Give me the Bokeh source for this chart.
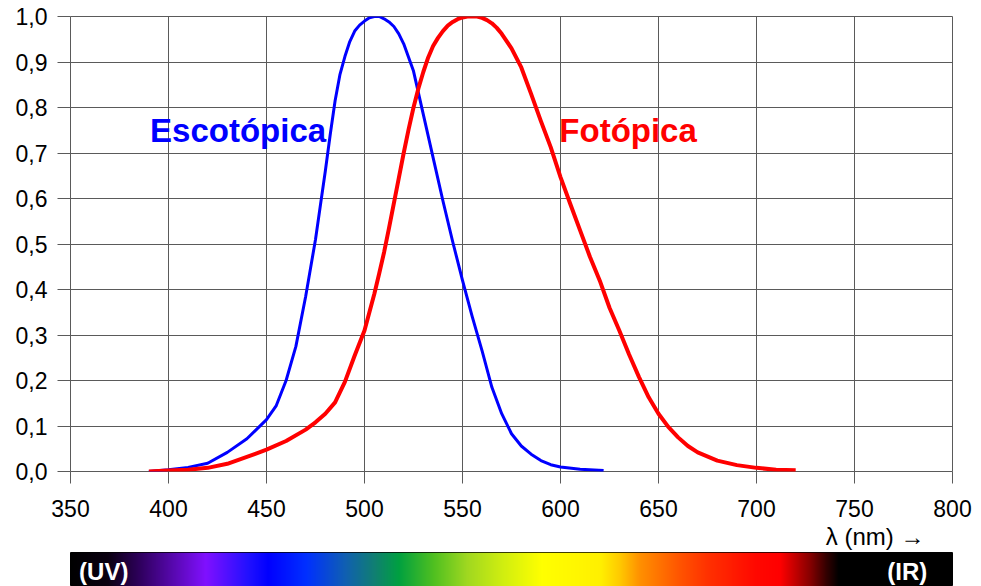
import numpy as np
from bokeh.plotting import figure
from bokeh.layouts import column
from bokeh.models import Range1d, FixedTicker, CustomJSTickFormatter, Title
from bokeh.core.properties import value
from bokeh.embed import file_html
from bokeh.resources import INLINE

# ---------------- data ----------------
x_ticks = [350, 400, 450, 500, 550, 600, 650, 700, 750, 800]
y_ticks = [0.0, 0.1, 0.2, 0.3, 0.4, 0.5, 0.6, 0.7, 0.8, 0.9, 1.0]

scot_wl = [390, 400, 410, 420, 430, 440, 450, 455, 460, 465, 470, 475, 477.5, 480,
           482.5, 485, 487.5, 490, 492.5, 495, 497.5, 500, 502.5, 505, 507.5, 510,
           512.5, 515, 517.5, 520, 525, 530, 535, 540, 545, 550, 555, 560, 565,
           570, 575, 580, 585, 590, 595, 600, 610, 622]
scot_v = [0.0, 0.004, 0.009, 0.018, 0.042, 0.072, 0.114, 0.145, 0.20, 0.275, 0.385,
          0.51, 0.585, 0.66, 0.74, 0.815, 0.873, 0.912, 0.945, 0.968, 0.981, 0.99,
          0.997, 1.0, 1.0, 0.995, 0.988, 0.978, 0.962, 0.94, 0.88, 0.785, 0.69,
          0.595, 0.505, 0.42, 0.34, 0.265, 0.185, 0.127, 0.083, 0.056, 0.038,
          0.024, 0.015, 0.01, 0.005, 0.002]

phot_wl = [390, 400, 410, 420, 430, 440, 450, 460, 470, 475, 480, 485, 490, 495,
           500, 502.5, 505, 507.5, 510, 512.5, 515, 517.5, 520, 522.5, 525, 527.5,
           530, 532.5, 535, 537.5, 540, 542.5, 545, 547.5, 550, 552.5, 555, 557.5,
           560, 562.5, 565, 567.5, 570, 575, 580, 585, 590, 595, 600, 605, 610, 615,
           620, 625, 630, 635, 640, 645, 650, 655, 660, 665, 670, 680, 690, 700,
           710, 720]
phot_v = [0.0, 0.002, 0.004, 0.008, 0.017, 0.032, 0.048, 0.067, 0.092, 0.108, 0.127,
          0.152, 0.197, 0.255, 0.31, 0.35, 0.39, 0.435, 0.482, 0.535, 0.59, 0.645,
          0.70, 0.752, 0.80, 0.842, 0.878, 0.91, 0.935, 0.953, 0.968, 0.98, 0.988,
          0.994, 0.998, 1.0, 1.0, 1.0, 0.997, 0.992, 0.985, 0.975, 0.962, 0.93,
          0.888, 0.83, 0.77, 0.713, 0.647, 0.588, 0.53, 0.472, 0.42, 0.36, 0.31,
          0.257, 0.208, 0.163, 0.127, 0.098, 0.075, 0.056, 0.042, 0.024, 0.014,
          0.008, 0.004, 0.003]

curve_names = ["Escotópica", "Fotópica"]
axis_title = "λ (nm) →"
band_names = ["(UV)", "(IR)"]

# spectrum colour stops (wavelength, colour)
spec_wl = [349, 368, 385, 418, 440, 450, 470, 490, 505, 517, 535, 552, 570, 590,
           620, 630, 640, 660, 675, 700, 712, 720, 728, 736, 742, 800]
spec_col = ["#000000", "#0a0010", "#300060", "#8010ff", "#2010ff", "#0000ff",
            "#0030ff", "#1060b0", "#108070", "#00a040", "#50c020", "#a0d820",
            "#d0ee10", "#ffff00", "#fff000", "#ffc800", "#ff9000", "#ff5500",
            "#ff3000", "#ff0800", "#ff0000", "#c00000", "#800000", "#300000",
            "#000000", "#000000"]

# ---------------- styles ----------------
FONT = "Liberation Sans"
GRID = "#5a5a5a"

p = figure(width=981, height=552, x_range=Range1d(350, 800), y_range=Range1d(0, 1),
           output_backend="svg", toolbar_location=None,
           min_border_left=70, min_border_right=29, min_border_top=16,
           min_border_bottom=81)
p.background_fill_color = "white"
p.border_fill_color = "white"
p.outline_line_color = GRID
p.outline_line_width = 1

p.xaxis.ticker = FixedTicker(ticks=x_ticks)
p.yaxis.ticker = FixedTicker(ticks=y_ticks)
p.xgrid.ticker = FixedTicker(ticks=x_ticks)
p.ygrid.ticker = FixedTicker(ticks=y_ticks)
for g in (p.xgrid, p.ygrid):
    g.grid_line_color = GRID
    g.grid_line_width = 1
    g.grid_line_alpha = 1

p.yaxis.formatter = CustomJSTickFormatter(code="return tick.toFixed(1).replace('.', ',');")

for ax, tout, standoff in ((p.xaxis, 12, 16), (p.yaxis, 13, 10)):
    ax.axis_line_color = None
    ax.major_tick_in = 0
    ax.major_tick_out = tout
    ax.major_tick_line_color = GRID
    ax.major_tick_line_width = 1
    ax.minor_tick_line_color = None
    ax.major_label_text_font = FONT
    ax.major_label_text_font_size = "23px"
    ax.major_label_text_color = "black"
    ax.major_label_standoff = standoff

p.line(scot_wl, scot_v, line_color="#0000ff", line_width=3, line_join="round")
p.line(phot_wl, phot_v, line_color="#ff0000", line_width=4, line_join="round")

p.text(x=[390.6], y=[0.75], text=[curve_names[0]], text_color="#0000ff",
       text_font=value(FONT), text_font_size="33px", text_font_style="bold",
       text_align="left", text_baseline="alphabetic")
p.text(x=[599.4], y=[0.75], text=[curve_names[1]], text_color="#ff0000",
       text_font=value(FONT), text_font_size="33px", text_font_style="bold",
       text_align="left", text_baseline="alphabetic")

p.add_layout(Title(text=axis_title, align="right", offset=28, standoff=2,
                   text_font=FONT, text_font_size="24px", text_font_style="normal",
                   text_color="black"), "below")

# ---------------- spectrum bar ----------------
s = figure(width=981, height=34, x_range=Range1d(349, 800), y_range=Range1d(0, 1),
           output_backend="svg", toolbar_location=None,
           min_border_left=68, min_border_right=29, min_border_top=0,
           min_border_bottom=0)
s.axis.visible = False
s.grid.visible = False
s.outline_line_color = "black"
s.border_fill_color = "white"


def hex2rgb(h):
    return np.array([int(h[i:i + 2], 16) for i in (1, 3, 5)], dtype=float)


stops_rgb = np.array([hex2rgb(c) for c in spec_col])
ncol = 884
centers = 349 + (np.arange(ncol) + 0.5) * (800 - 349) / ncol
img = np.empty((1, ncol), dtype=np.uint32)
view = img.view(dtype=np.uint8).reshape((1, ncol, 4))
for k in range(3):
    view[0, :, k] = np.round(np.interp(centers, spec_wl, stops_rgb[:, k])).astype(np.uint8)
view[0, :, 3] = 255
s.image_rgba(image=[img], x=349, y=0, dw=800 - 349, dh=1)

s.text(x=[353.4], y=[0.45], text=[band_names[0]], text_color="white",
       text_font=value(FONT), text_font_size="24px", text_font_style="bold",
       text_align="left", text_baseline="middle")
s.text(x=[787.1], y=[0.45], text=[band_names[1]], text_color="white",
       text_font=value(FONT), text_font_size="24px", text_font_style="bold",
       text_align="right", text_baseline="middle")

layout = column(p, s, spacing=0)
open("out.html", "w").write(file_html(layout, INLINE))
